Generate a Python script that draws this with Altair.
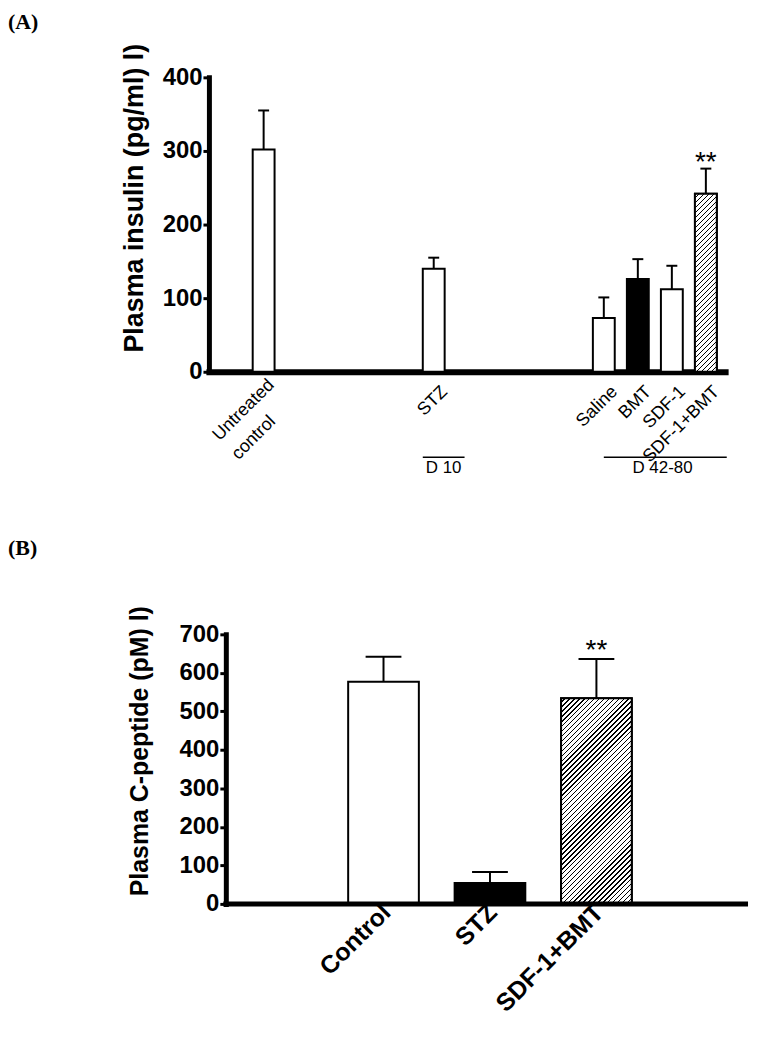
import altair as alt
import pandas as pd

# ---------------- data ----------------
panel_labels = ["(A)", "(B)"]

a_groups = ["Untreated control", "STZ", "Saline", "BMT", "SDF-1", "SDF-1+BMT"]
a_means = [302, 140, 73, 126, 112, 242]
a_upper = [355, 155, 101, 153, 144, 276]
a_marks = ["", "", "", "", "", "**"]
a_title = "Plasma insulin (pg/ml) l)"
a_ticks = [0, 100, 200, 300, 400]
a_periods = ["D 10", "D 42-80"]
a_period_from = ["STZ", "Saline"]
a_period_to = ["STZ", "SDF-1+BMT"]

b_groups = ["Control", "STZ", "SDF-1+BMT"]
b_means = [577, 54, 534]
b_upper = [642, 83, 636]
b_marks = ["", "", "**"]
b_title = "Plasma C-peptide (pM) l)"
b_ticks = [0, 100, 200, 300, 400, 500, 600, 700]

hatched_group = "SDF-1+BMT"

# ---------------- layout / style ----------------
A_W, A_H = 519, 296
B_W, B_H = 542, 271
SANS = "Liberation Sans"
SERIF = "Liberation Serif"

a_fill = ["white", "white", "white", "black", "white", "white"]
b_fill = ["white", "black", "white"]

# x slots (blank slots used only for spacing)
a_domain = ([a_groups[0]] + [f"gap{i}" for i in range(1, 5)] + [a_groups[1]]
            + [f"gap{i}" for i in range(5, 9)] + a_groups[2:])
b_domain = ["gapL"] + b_groups + ["gapR"]

GAP_EXPR = "indexof(datum.label,'gap')==0 ? '' : "
TWO_LINE = "datum.label=='Untreated control'"


def hatch(w, h, period=5.0, duty=0.7):
    """Diagonal '////' hatch as a hard-stop linear gradient (bbox units)."""
    c = w * (w + h) / (w * w + h * h)
    n = max(1, round((w + h) / period))
    stops = []
    for k in range(n):
        a = k / n
        b = (k + duty) / n
        e = (k + 1) / n
        stops += [
            {"offset": a, "color": "white"},
            {"offset": b, "color": "white"},
            {"offset": b, "color": "black"},
            {"offset": e, "color": "black"},
        ]
    return {"gradient": "linear", "x1": 0, "y1": 0, "x2": c, "y2": c * h / w,
            "stops": stops}


# ================= Panel A =================
dfA = pd.DataFrame({"group": a_groups, "mean": a_means, "upper": a_upper, "mark": a_marks})
dfP = pd.DataFrame({"label": a_periods, "from": a_period_from, "to": a_period_to})

A_PI, A_PO = 0.357, 0.766
xA_scale = alt.Scale(domain=a_domain, paddingInner=A_PI, paddingOuter=A_PO, align=0.84)
xA_axis = alt.Axis(
    labelExpr=GAP_EXPR + "(" + TWO_LINE + " ? ['Untreated','control'] : datum.label)",
    labelAngle=-45,
    labelAlign={"condition": {"test": TWO_LINE, "value": "left"}, "value": "right"},
    labelBaseline="middle",
    labelOffset={"condition": {"test": TWO_LINE, "value": -48}, "value": 11},
    labelPadding={"condition": {"test": TWO_LINE, "value": 66}, "value": 17},
    labelFont=SANS, labelFontSize=18,
    labelLineHeight=27, labelOverlap=False, ticks=False,
    domainWidth=6, domainColor="black", domainCap="square",
)
xA = alt.X("group:N", scale=xA_scale, title=None, axis=xA_axis)
yA_axis = alt.Axis(
    values=a_ticks, labelFont=SANS, labelFontSize=24, labelFontWeight="bold",
    labelPadding=1, tickSize=6, tickWidth=3, tickColor="black",
    domainWidth=5, domainColor="black", domainCap="square", labelOverlap=False,
    titleFont=SANS, titleFontSize=27, titleFontWeight="bold",
    titleX=-75, titleY=121, titleBaseline="middle", titleAlign="center",
)
yA_scale = alt.Scale(domain=[0, 400], nice=False)


def ya(field):
    return alt.Y(field, scale=yA_scale, title=a_title, axis=yA_axis)


def xa(field, bp=0.5):
    return alt.X(field, scale=xA_scale, title=None, axis=xA_axis, bandPosition=bp)


bwA = A_W / (len(a_domain) - A_PI + 2 * A_PO) * (1 - A_PI)

baseA = alt.Chart(dfA).encode(x=xA)
barsA = baseA.mark_bar(stroke="black", strokeWidth=2).encode(
    y=ya("mean:Q"),
    fill=alt.Fill("group:N", scale=alt.Scale(domain=a_groups, range=a_fill), legend=None)
)
hatchA = baseA.transform_filter(alt.datum.group == hatched_group).mark_bar(
    fill=hatch(bwA, A_H * a_means[a_groups.index(hatched_group)] / 400),
    stroke="black", strokeWidth=2
).encode(y=ya("mean:Q"))
errA = baseA.mark_rule(strokeWidth=2, color="black").encode(y=ya("mean:Q"), y2="upper:Q")
capA = baseA.mark_tick(size=11, thickness=2, color="black", opacity=1).encode(y=ya("upper:Q"))
sigA = baseA.mark_text(font=SANS, fontSize=28, baseline="alphabetic", dy=2, color="black").encode(
    y=ya("upper:Q"), text="mark:N")

pD10 = alt.Chart(dfP).transform_filter(alt.datum.label == a_periods[0])
pD42 = alt.Chart(dfP).transform_filter(alt.datum.label == a_periods[1])
ruleD10 = pD10.mark_rule(strokeWidth=1.5, color="black", x2Offset=20).encode(
    x=xa("from:N", 0), x2=alt.X2("to:N", bandPosition=1), y=alt.value(A_H + 86))
ruleD42 = pD42.mark_rule(strokeWidth=1.5, color="black", x2Offset=10).encode(
    x=xa("from:N", 0.5), x2=alt.X2("to:N", bandPosition=1), y=alt.value(A_H + 86))
textD10 = pD10.mark_text(font=SANS, fontSize=17, align="center", baseline="middle", dx=21, color="black").encode(
    x=xa("from:N", 0), y=alt.value(A_H + 97), text="label:N")
textD42 = pD42.mark_text(font=SANS, fontSize=17, align="center", baseline="middle", dx=70, color="black").encode(
    x=xa("from:N", 0), y=alt.value(A_H + 97), text="label:N")

labA = alt.Chart(pd.DataFrame({"label": [panel_labels[0]]})).mark_text(
    font=SERIF, fontWeight="bold", fontSize=22, align="left", baseline="top", color="black"
).encode(x=alt.value(-202), y=alt.value(-66), text="label:N")

panelA = alt.layer(barsA, hatchA, errA, capA, sigA, ruleD10, ruleD42, textD10, textD42, labA).properties(
    width=A_W, height=A_H)

# ================= Panel B =================
dfB = pd.DataFrame({"group": b_groups, "mean": b_means, "upper": b_upper, "mark": b_marks})

B_PI, B_PO = 0.336, 0.2
xB = alt.X(
    "group:N", scale=alt.Scale(domain=b_domain, paddingInner=B_PI, paddingOuter=B_PO, align=0.77),
    title=None,
    axis=alt.Axis(
        labelExpr=GAP_EXPR + "datum.label",
        labelAngle=-45, labelAlign="right", labelBaseline="middle",
        labelOffset=3, labelPadding=4, labelFont=SANS, labelFontSize=25,
        labelFontWeight="bold", labelOverlap=False, ticks=False, domain=False,
    ),
)
yB_axis = alt.Axis(
    values=b_ticks, offset=-17, labelFont=SANS, labelFontSize=24, labelFontWeight="bold",
    labelPadding=1, tickSize=6, tickWidth=3, tickColor="black",
    domainWidth=5, domainColor="black", domainCap="square", labelOverlap=False,
    titleFont=SANS, titleFontSize=25, titleFontWeight="bold",
    titleX=-87, titleY=117, titleBaseline="middle", titleAlign="center",
)
yB_scale = alt.Scale(domain=[0, 700], nice=False)


def yb(field):
    return alt.Y(field, scale=yB_scale, title=b_title, axis=yB_axis)


bwB = B_W / (len(b_domain) - B_PI + 2 * B_PO) * (1 - B_PI)

baseB = alt.Chart(dfB).encode(x=xB)
barsB = baseB.mark_bar(stroke="black", strokeWidth=2).encode(
    y=yb("mean:Q"),
    fill=alt.Fill("group:N", scale=alt.Scale(domain=b_groups, range=b_fill), legend=None)
)
hatchB = baseB.transform_filter(alt.datum.group == hatched_group).mark_bar(
    fill=hatch(bwB, B_H * b_means[b_groups.index(hatched_group)] / 700),
    stroke="black", strokeWidth=2
).encode(y=yb("mean:Q"))
errB = baseB.mark_rule(strokeWidth=2, color="black").encode(y=yb("mean:Q"), y2="upper:Q")
capB = baseB.mark_tick(size=36, thickness=2, color="black", opacity=1).encode(y=yb("upper:Q"))
sigB = baseB.mark_text(font=SANS, fontSize=28, baseline="alphabetic", dy=0, color="black").encode(
    y=yb("upper:Q"), text="mark:N")

baseLineB = alt.Chart(pd.DataFrame({"v": [0]})).mark_rule(strokeWidth=5, color="black").encode(
    x=alt.value(14.5), x2=alt.value(B_W), y=yb("v:Q"))

labB = alt.Chart(pd.DataFrame({"label": [panel_labels[1]]})).mark_text(
    font=SERIF, fontWeight="bold", fontSize=22, align="left", baseline="top", color="black"
).encode(x=alt.value(-202), y=alt.value(-97), text="label:N")

panelB = alt.layer(barsB, hatchB, errB, capB, sigB, baseLineB, labB).properties(
    width=B_W, height=B_H)

chart = alt.vconcat(panelA, panelB, spacing=61).resolve_scale(
    fill="independent"
).properties(
    padding=0, background="white"
).configure_view(stroke=None).configure_axis(
    grid=False, labelColor="black", titleColor="black"
)

chart.save("out.html", embed_options={"renderer": "svg", "actions": False})
